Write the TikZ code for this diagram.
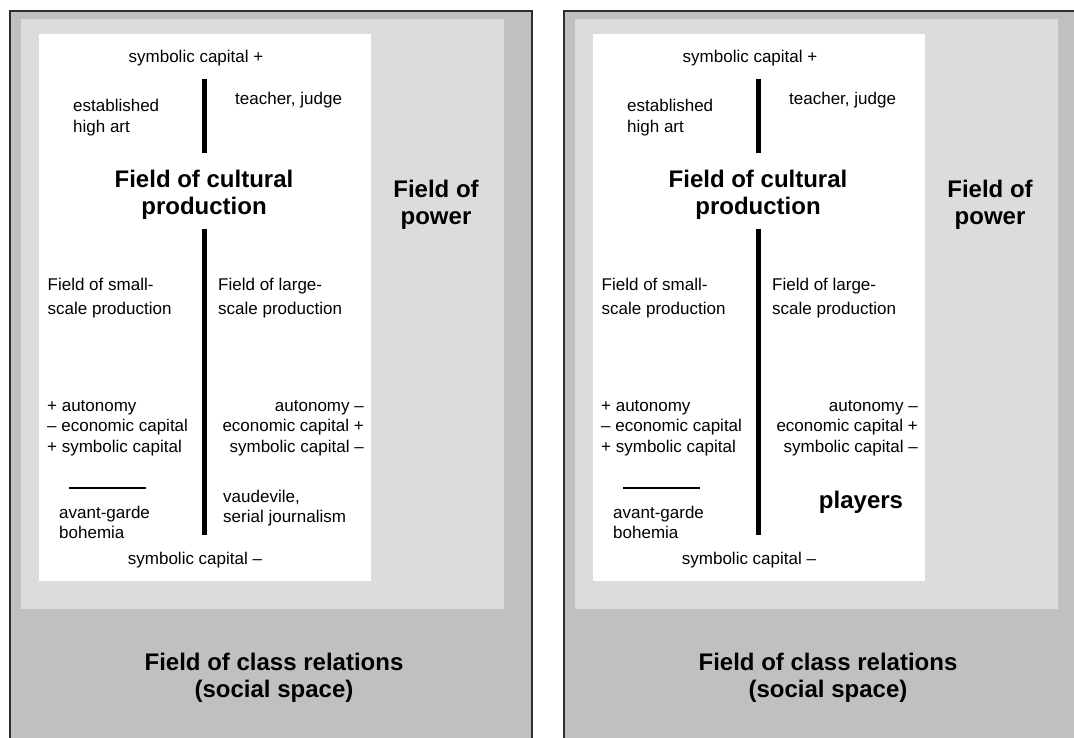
\documentclass[tikz,border=0pt]{standalone}
\usepackage{fontspec}
\setmainfont{Liberation Sans}
\usetikzlibrary{positioning}
\definecolor{outergray}{HTML}{C0C0C0}
\definecolor{powergray}{HTML}{DCDCDC}
\definecolor{framegray}{HTML}{2E2E2E}
\tikzstyle{small} = [inner sep=0pt, align=left, font=\fontsize{17}{20.5}\selectfont]
\tikzstyle{wide} = [small, font=\fontsize{17}{24}\selectfont]
\tikzstyle{big} = [inner sep=0pt, align=center, font=\fontsize{24}{26.5}\selectfont\bfseries]
\tikzstyle{divider} = [line width=5pt]

\begin{document}
\begin{tikzpicture}[x=1pt, y=-1pt]
    \useasboundingbox (0,0) rectangle (1074,738);
    \clip (0,0) rectangle (1074,738);
    % two panels, same frame
    \foreach \p/\dx in {L/0, R/554} {
      \begin{scope}[xshift=\dx pt]
        \draw[framegray, line width=2pt, fill=outergray] (9.5,11.5) rectangle (532,760);
        \fill[powergray] (21,19) rectangle (504,609);
        \fill[white] (39,34) rectangle (371,581);
        \node[small] (\p-symtop) at (196,58) {symbolic capital +};
        \node[small, anchor=west] (\p-teacher) at (235,100) {teacher, judge};
        \node[small, anchor=west] (\p-high) at (73,117.5) {established\\high art};
        \node[big] (\p-cult) at (204,195) {Field of cultural\\production};
        \node[big] (\p-power) at (436,205) {Field of\\power};
        \node[wide, anchor=west] (\p-smallf) at (47.5,298) {Field of small-\\scale production};
        \node[wide, anchor=west] (\p-largef) at (218,298) {Field of large-\\scale production};
        \node[small, anchor=west] (\p-plus) at (47,428) {+ autonomy\\– economic capital\\+ symbolic capital};
        \node[small, anchor=east, align=right] (\p-minus) at (364,428) {autonomy –\\economic capital +\\symbolic capital –};
        \node[small, anchor=west] (\p-avant) at (59,522.5) {avant-garde\\bohemia};
        \node[small] (\p-symbot) at (195,560) {symbolic capital –};
        \node[big] (\p-class) at (274,678) {Field of class relations\\(social space)};
        \coordinate (\p-a) at (204.5,79);
        \coordinate (\p-b) at (204.5,153);
        \coordinate (\p-c) at (204.5,229);
        \coordinate (\p-d) at (204.5,535);
        \coordinate (\p-u) at (69,488);
        \coordinate (\p-v) at (146,488);
        \draw[divider] (\p-a) -- (\p-b);
        \draw[divider] (\p-c) -- (\p-d);
        \draw[line width=1.2pt] (\p-u) -- (\p-v);
      \end{scope}
    }
    \node[small, anchor=west] (vaude) at (223,508) {vaudevile,\\serial journalism};
    \node[big] (players) at (861,502) {players};
\end{tikzpicture}
\end{document}
